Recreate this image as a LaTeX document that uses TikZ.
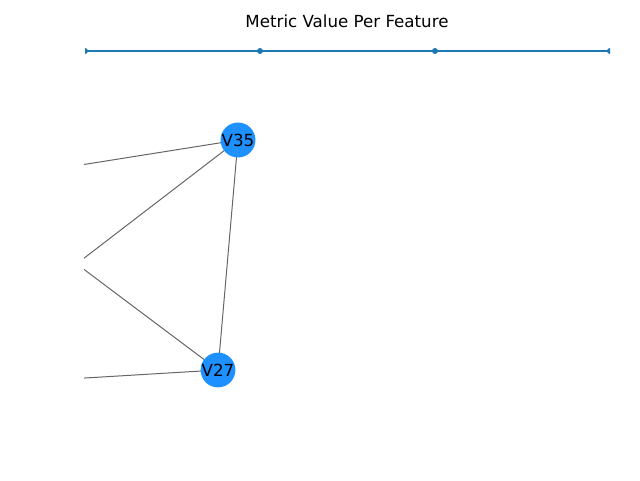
\documentclass[tikz,border=0pt]{standalone}
\usepackage{fontspec}
\setmainfont{DejaVu Sans}
\definecolor{linecol}{HTML}{1F77B4}
\definecolor{nodecol}{HTML}{1E90FF}
\definecolor{edgecol}{HTML}{666666}
\begin{document}
\begin{tikzpicture}[x=0.75pt,y=-0.75pt,
  vertex/.style={circle,fill=nodecol,minimum size=15pt,inner sep=0pt,
    font=\fontsize{12.5pt}{14pt}\selectfont},
  edge/.style={draw=edgecol,line width=0.75pt},
  marker/.style={fill=linecol},
  title/.style={font=\fontsize{12.5pt}{14pt}\selectfont}]
\useasboundingbox (0,0) rectangle (640,480);

\node[title] (title) at (347,21) {Metric Value Per Feature};

% metric track with markers
\begin{scope}
  \clip (85,40) rectangle (610,62);
  \coordinate (m0) at (85,51);
  \coordinate (m1) at (260,51);
  \coordinate (m2) at (435,51);
  \coordinate (m3) at (610,51);
  \draw[linecol,line width=1.5pt] (m0) -- (m3);
  \foreach \m in {m0,m1,m2,m3} \fill[marker] (\m) circle (3);
\end{scope}

% graph
\coordinate (V35) at (238,140);
\coordinate (V27) at (218,370);
\coordinate (a) at (60,168.3);
\coordinate (b) at (60,276.6);
\coordinate (c) at (60,251.4);
\coordinate (d) at (60,379.5);
\begin{scope}
  \clip (84,0) rectangle (640,480);
  \draw[edge] (V35) -- (a);
  \draw[edge] (V35) -- (b);
  \draw[edge] (V27) -- (c);
  \draw[edge] (V27) -- (d);
  \draw[edge] (V35) -- (V27);
\end{scope}
\node[vertex] (n35) at (V35) {V35};
\node[vertex] (n27) at (V27) {V27};
\end{tikzpicture}
\end{document}
